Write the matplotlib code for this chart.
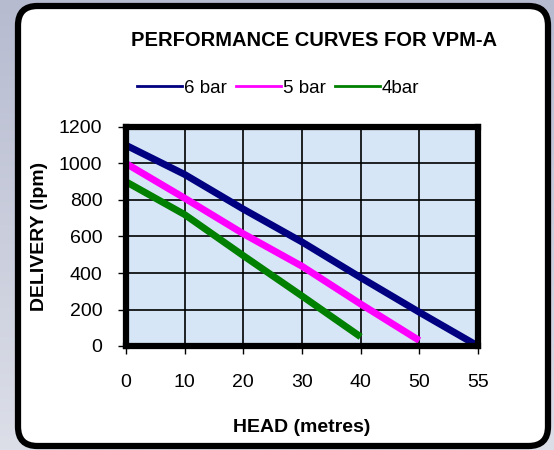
import matplotlib
matplotlib.use("Agg")
import matplotlib.pyplot as plt
import numpy as np
from matplotlib.patches import FancyBboxPatch
from matplotlib.lines import Line2D
from matplotlib.colors import LinearSegmentedColormap

head_labels = ["0", "10", "20", "30", "40", "50", "55"]
bar6 = [1100, 940, 750, 570, 375, 185, 0]
bar5 = [1000, 810, 615, 437, 230, 30]
bar4 = [900, 720, 495, 274, 50]
series_names = ["6 bar", "5 bar", "4bar"]
y_ticks = [0, 200, 400, 600, 800, 1000, 1200]

plt.rcParams['font.family'] = ['Liberation Sans Narrow', 'Liberation Sans', 'DejaVu Sans']

W, H = 554, 450
fig = plt.figure(figsize=(W/100, H/100), dpi=100)

# background gradient
bg = fig.add_axes([0, 0, 1, 1], zorder=-10)
grad = np.linspace(0, 1, 256).reshape(-1, 1)
cmap = LinearSegmentedColormap.from_list("bg", ["#b6bbd0", "#dcdfe8"])
bg.imshow(grad, aspect='auto', cmap=cmap, extent=[0, 1, 0, 1], origin='upper')
bg.set_xlim(0, 1); bg.set_ylim(0, 1)
bg.axis('off')

# white rounded panel
panel = FancyBboxPatch((18/W, 4/H), (548-18)/W, (446-6)/H,
                       boxstyle="round,pad=0,rounding_size=0.035",
                       transform=bg.transAxes, facecolor='white',
                       edgecolor='black', linewidth=4.5, mutation_aspect=W/H)
bg.add_patch(panel)

left, right, top, bottom = 126, 478, 127, 346
ax = fig.add_axes([left/W, 1 - bottom/H, (right-left)/W, (bottom-top)/H])
ax.set_facecolor('#d7e6f6')

x6 = np.arange(len(bar6))
x5 = np.arange(len(bar5))
x4 = np.arange(len(bar4))
ax.plot(x6, bar6, color='#000080', lw=5, solid_capstyle='butt', zorder=5)
ax.plot(x5, bar5, color='#ff00ff', lw=5, solid_capstyle='butt', zorder=5)
ax.plot(x4, bar4, color='#008000', lw=5, solid_capstyle='butt', zorder=5)

ax.set_xlim(0, len(head_labels) - 1)
ax.set_ylim(0, 1200)
ax.set_xticks(np.arange(len(head_labels)))
ax.set_xticklabels(head_labels)
ax.set_yticks(y_ticks)
ax.grid(True, color='black', lw=1.2, zorder=1)
ax.set_axisbelow(True)
for s in ax.spines.values():
    s.set_linewidth(4.5)
    s.set_color('black')
    s.set_zorder(6)
ax.tick_params(axis='both', labelsize=14, length=6, width=1, direction='out', color='black')
ax.tick_params(axis='x', pad=14)
ax.tick_params(axis='y', pad=11)

ax.set_xlabel("HEAD (metres)", fontsize=14, fontweight='bold', labelpad=20)
ax.set_ylabel("DELIVERY (lpm)", fontsize=14, fontweight='bold', labelpad=8)

fig.text(314/W, 1 - 40/H, "PERFORMANCE CURVES FOR VPM-A", ha='center', va='center',
         fontsize=14.5, fontweight='bold')

handles = [Line2D([], [], color=c, lw=2) for c in ['#000080', '#ff00ff', '#008000']]
fig.legend(handles, series_names, loc='center', bbox_to_anchor=(278/W, 1 - 88/H),
           ncol=3, frameon=False, fontsize=13.5, handlelength=2.4, handletextpad=0.1,
           columnspacing=0.5)

fig.savefig("out.png", dpi=100)
